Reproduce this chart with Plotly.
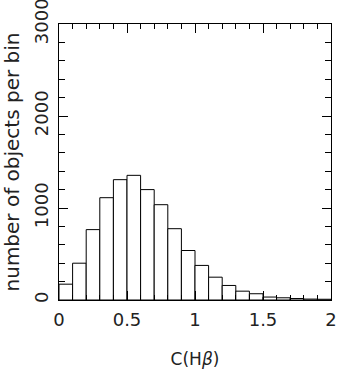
import plotly.graph_objects as go

# histogram of C(Hbeta), bins of 0.1
bin_left = [0.0, 0.1, 0.2, 0.3, 0.4, 0.5, 0.6, 0.7, 0.8, 0.9,
            1.0, 1.1, 1.2, 1.3, 1.4, 1.5, 1.6, 1.7, 1.8, 1.9]
counts = [172, 400, 765, 1112, 1308, 1355, 1200, 1036, 775, 538,
          376, 248, 158, 96, 68, 32, 24, 16, 10, 8]
bin_width = 0.1

x_ticks = [0, 0.5, 1, 1.5, 2]
x_labels = ['0', '0.5', '1', '1.5', '2']
y_ticks = [0, 1000, 2000, 3000]

centers = [b + bin_width / 2 for b in bin_left]

fig = go.Figure()
fig.add_trace(go.Bar(x=centers, y=counts, width=bin_width,
                     marker=dict(color='white', line=dict(color='black', width=1))))

tick_font = dict(family='DejaVu Sans', size=18, color='#222')
ytitle_font = dict(family='DejaVu Sans', size=20, color='#222')
xtitle_font = dict(family='DejaVu Sans', size=17, color='#222')

fig.update_layout(
    width=338, height=370,
    margin=dict(l=59, r=7, t=24, b=70),
    plot_bgcolor='white', paper_bgcolor='white',
    showlegend=False,
)

fig.update_xaxes(range=[0, 2], tickvals=x_ticks, ticktext=x_labels, tickfont=tick_font,
                 ticks='inside', ticklen=9, tickcolor='black', tickwidth=1,
                 minor=dict(dtick=0.1, ticks='inside', ticklen=5, tickcolor='black'),
                 showline=True, linecolor='black', linewidth=1, mirror='allticks',
                 showgrid=False, zeroline=False, ticklabelstandoff=3, automargin=False,
                 ticklabeloverflow='allow',
                 title=dict(text='C(H<i>β</i>)', standoff=24, font=xtitle_font))

fig.update_yaxes(range=[0, 3000], tickvals=y_ticks, tickangle=-90, tickfont=tick_font,
                 ticks='inside', ticklen=9, tickcolor='black', tickwidth=1,
                 minor=dict(dtick=200, ticks='inside', ticklen=6, tickcolor='black'),
                 showline=True, linecolor='black', linewidth=1, mirror='allticks',
                 showgrid=False, zeroline=False, ticklabelstandoff=3, automargin=False,
                 ticklabeloverflow='allow',
                 title=dict(text='number of objects per bin', standoff=14, font=ytitle_font))

# drop the page's default body margin so the figure sits at the window corner
fig.write_html("out.html", config={'displayModeBar': False},
               post_script="document.body.style.margin = '0';")
